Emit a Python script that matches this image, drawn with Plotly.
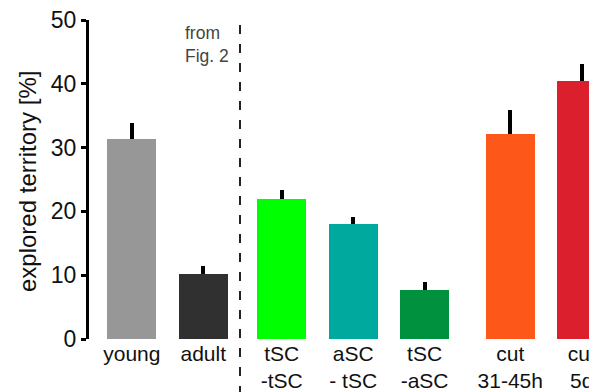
import plotly.graph_objects as go

categories = ["young", "adult", "tSC<br>-tSC", "aSC<br>- tSC", "tSC<br>-aSC", "cut<br>31-45h", "cut<br>5d"]
values = [31.4, 10.2, 21.9, 18.0, 7.7, 32.2, 40.5]
errors = [2.4, 1.3, 1.4, 1.1, 1.2, 3.7, 2.6]
colors = ["#979797", "#303030", "#00ff00", "#00a99d", "#00913f", "#fd5719", "#dc1f2c"]
y_ticks = [0, 10, 20, 30, 40, 50]

# group layout: two controls, three SC combinations, two cut conditions
positions = [0, 1, 2.1, 3.1, 4.1, 5.3, 6.3]

fig = go.Figure()
fig.add_trace(go.Bar(
    x=positions, y=values, width=0.69,
    marker=dict(color=colors, line=dict(width=0)),
    error_y=dict(type="data", symmetric=False, array=errors,
                 arrayminus=[0] * len(errors), color="black",
                 thickness=4, width=0),
    showlegend=False,
))

# page body has an 8px margin; compensate so window pixels match
OFF = 8
W, H = 597 - OFF, 392 - OFF
ml, mr, mt, mb = 89 - OFF, 0, 20 - OFF, 53
pw = W - ml - mr
ph = H - mt - mb


def px(xw):
    return (xw - OFF - ml) / pw


def py(yw):
    return (H - mb - (yw - OFF)) / ph


fig.update_layout(
    width=W, height=H,
    margin=dict(l=ml, r=mr, t=mt, b=mb, autoexpand=False),
    paper_bgcolor="white", plot_bgcolor="white",
    font=dict(family="Liberation Sans, Arial, sans-serif", color="black"),
    bargap=0,
    xaxis=dict(
        range=[-0.6, 6.515], tickvals=positions, ticktext=categories,
        showline=False, showgrid=False, zeroline=False, ticks="",
        tickfont=dict(size=21, color="#111111"), automargin=False,
        ticklabeloverflow="allow",
    ),
    yaxis=dict(
        range=[0, 50], tickvals=y_ticks, showline=True, linewidth=3,
        linecolor="black", ticks="outside", ticklen=5, tickwidth=3,
        tickcolor="black", showgrid=False, zeroline=False,
        tickfont=dict(size=23, color="#111111"), automargin=False,
        ticklabeloverflow="allow",
    ),
)

# y-axis title placed explicitly
fig.add_annotation(xref="paper", yref="paper", x=px(27), y=py(182),
                   xanchor="center", yanchor="middle", textangle=-90,
                   text="explored territory [%]", showarrow=False,
                   font=dict(size=24, color="#111111"))

# dashed separator
fig.add_shape(type="line", xref="paper", yref="paper", x0=px(240), x1=px(240),
              y0=py(395), y1=py(20.5),
              line=dict(color="#222222", width=2, dash="9px,10px"))

fig.add_annotation(xref="paper", yref="paper", x=px(183), y=py(21),
                   xanchor="left", yanchor="top", align="left",
                   text="from<br>Fig. 2", showarrow=False,
                   font=dict(size=17.5, color="#444444"))

fig.write_html("out.html")
